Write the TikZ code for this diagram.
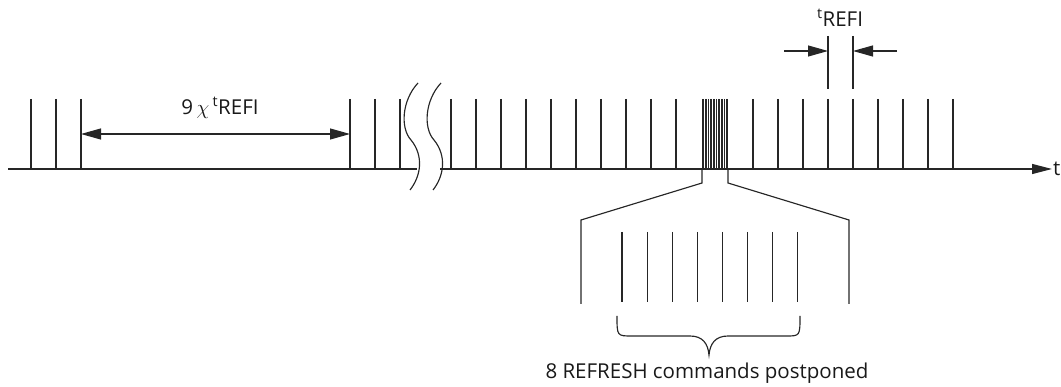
\documentclass[tikz,border=0pt]{standalone}
\usepackage{fontspec}
\setmainfont{Open Sans}
\usetikzlibrary{arrows.meta, positioning}
\def\gap{25}

\begin{document}
\begin{tikzpicture}[x=1pt,y=-1pt,line width=1.15pt,draw=black!85]
    \tikzstyle{tick}=[draw=black!85]
    \tikzstyle{tip}=[-{Triangle[length=20pt,width=11pt]}]
    \tikzstyle{both tips}=[{Triangle[length=20pt,width=11pt]}-{Triangle[length=20pt,width=11pt]}]
    \tikzstyle{lbl}=[font=\fontsize{20.5}{24}\selectfont, inner sep=0pt, text=black!90]

    \useasboundingbox (0,0) rectangle (1061,387);

    % time axis, broken between the two waves
    \coordinate (ax-start) at (8,169);
    \coordinate (ax-break1) at (417,169);
    \coordinate (ax-break2) at (440,169);
    \coordinate (ax-end) at (1052,169);
    \draw (ax-start) -- (ax-break1);
    \draw[-{Triangle[length=20pt,width=10pt]}] (ax-break2) -- (ax-end);
    \node[lbl, right=0.5pt of ax-end] (t) {t};

    % the break
	\foreach \dx in {0,23}{
		\draw[shift={(\dx,0)}] (418,83) .. controls (402,100) and (400,128) .. (411,140)
			.. controls (424,156) and (421,176) .. (410,190);
	}

    % refresh ticks
	\foreach \x in {31,56,81,350,375,400}{
		\draw[tick] (\x,99) -- (\x,169);
	}
	\foreach \i in {0,...,9}{
		\pgfmathsetmacro\x{451+\i*\gap}
		\draw[tick] (\x,99) -- (\x,169);
	}
	\foreach \i in {0,...,8}{
		\pgfmathsetmacro\x{753+\i*\gap}
		\draw[tick] (\x,99) -- (\x,169);
	}

    % postponed refreshes squeezed together
	\foreach \x in {702,703.6,...,728.5}{
		\draw[tick, line width=0.8pt] (\x,99) -- (\x,169);
	}

    % 9 x tREFI
    \coordinate (gap-l) at (81,134);
    \coordinate (gap-r) at (350,134);
    \draw[both tips] (gap-l) -- (gap-r);
    \node[lbl] (gap-lbl) at (220,108) {9\,$\chi$\,\textsuperscript{t}REFI};

    % tREFI
    \draw[tick] (828,36) -- (828,89);
    \draw[tick] (853,36) -- (853,89);
    \coordinate (refi-l) at (828,51);
    \coordinate (refi-r) at (853,51);
    \coordinate (refi-ll) at (784,51);
    \coordinate (refi-rr) at (897,51);
    \draw[tip] (refi-ll) -- (refi-l);
    \draw[tip] (refi-rr) -- (refi-r);
    \node[lbl] (refi-lbl) at (840,18) {\textsuperscript{t}REFI};

    % zoomed view
    \draw (702,169) -- (702,183) -- (581,220) -- (581,304);
    \draw (728,169) -- (728,183) -- (849,220) -- (849,304);
	\foreach \i in {0,...,7}{
		\pgfmathsetmacro\x{622+\i*25.1}
		\draw[tick] (\x,232) -- (\x,302);
	}

    % brace
    \draw (617,316) .. controls (617,336) .. (632,336) -- (690,336)
        .. controls (703,336) and (708,344) .. (709,355)
        .. controls (710,344) and (715,336) .. (728,336) -- (786,336)
        .. controls (800,336) .. (800,316);
    \node[lbl] (post) at (707,373) {8 REFRESH commands postponed};
\end{tikzpicture}
\end{document}
